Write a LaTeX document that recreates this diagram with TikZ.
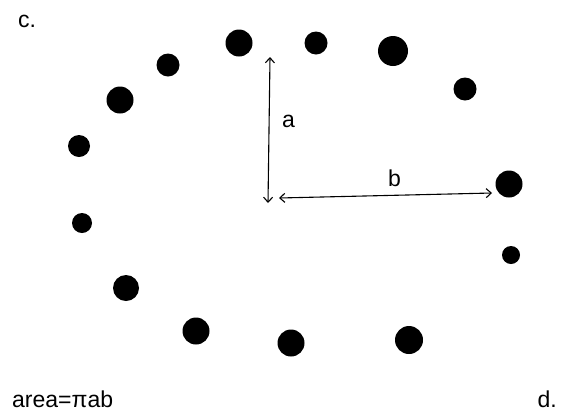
\documentclass[tikz,border=0pt]{standalone}
\usepackage{fontspec}
\setmainfont{Liberation Sans}
\usetikzlibrary{arrows.meta}
\tikzset{dot/.style={circle,fill=black,inner sep=0pt},
  lbl/.style={inner sep=0pt,font=\fontsize{23}{23}\selectfont},
  axis/.style={line width=1.1pt,{Straight Barb[length=5pt,width=9pt]}-{Straight Barb[length=5pt,width=9pt]}}}
\begin{document}
\begin{tikzpicture}[x=1pt,y=-1pt]
\useasboundingbox (0,0) rectangle (561,416);
\node[dot,minimum size=27] (d1) at (239,43) {};
\node[dot,minimum size=23] (d2) at (168,65) {};
\node[dot,minimum size=27] (d3) at (120,100) {};
\node[dot,minimum size=22] (d4) at (79,146) {};
\node[dot,minimum size=23] (d5) at (316,43) {};
\node[dot,minimum size=30] (d6) at (393,51) {};
\node[dot,minimum size=23] (d7) at (465,89) {};
\node[dot,minimum size=27] (d8) at (509,184) {};
\node[dot,minimum size=18] (d9) at (511,255) {};
\node[dot,minimum size=20] (d10) at (82,223) {};
\node[dot,minimum size=26] (d11) at (126,288) {};
\node[dot,minimum size=27] (d12) at (196,331) {};
\node[dot,minimum size=27] (d13) at (291,343) {};
\node[dot,minimum size=28] (d14) at (409,340) {};
% semi-axes
\coordinate (atop) at (270,57);
\coordinate (abot) at (268,203);
\coordinate (bleft) at (279,198);
\coordinate (bright) at (492,193);
\draw[axis] (atop)--(abot);
\draw[axis] (bleft)--(bright);
\node[lbl,anchor=base west] (la) at (282,127) {a};
\node[lbl,anchor=base west] (lb) at (388,186) {b};
% corner texts
\node[lbl,anchor=base west] (lc) at (18,27) {c.};
\node[lbl,anchor=base west] (area) at (12,407) {area=πab};
\node[lbl,anchor=base east] (ld) at (557,407) {d.};
\end{tikzpicture}
\end{document}
